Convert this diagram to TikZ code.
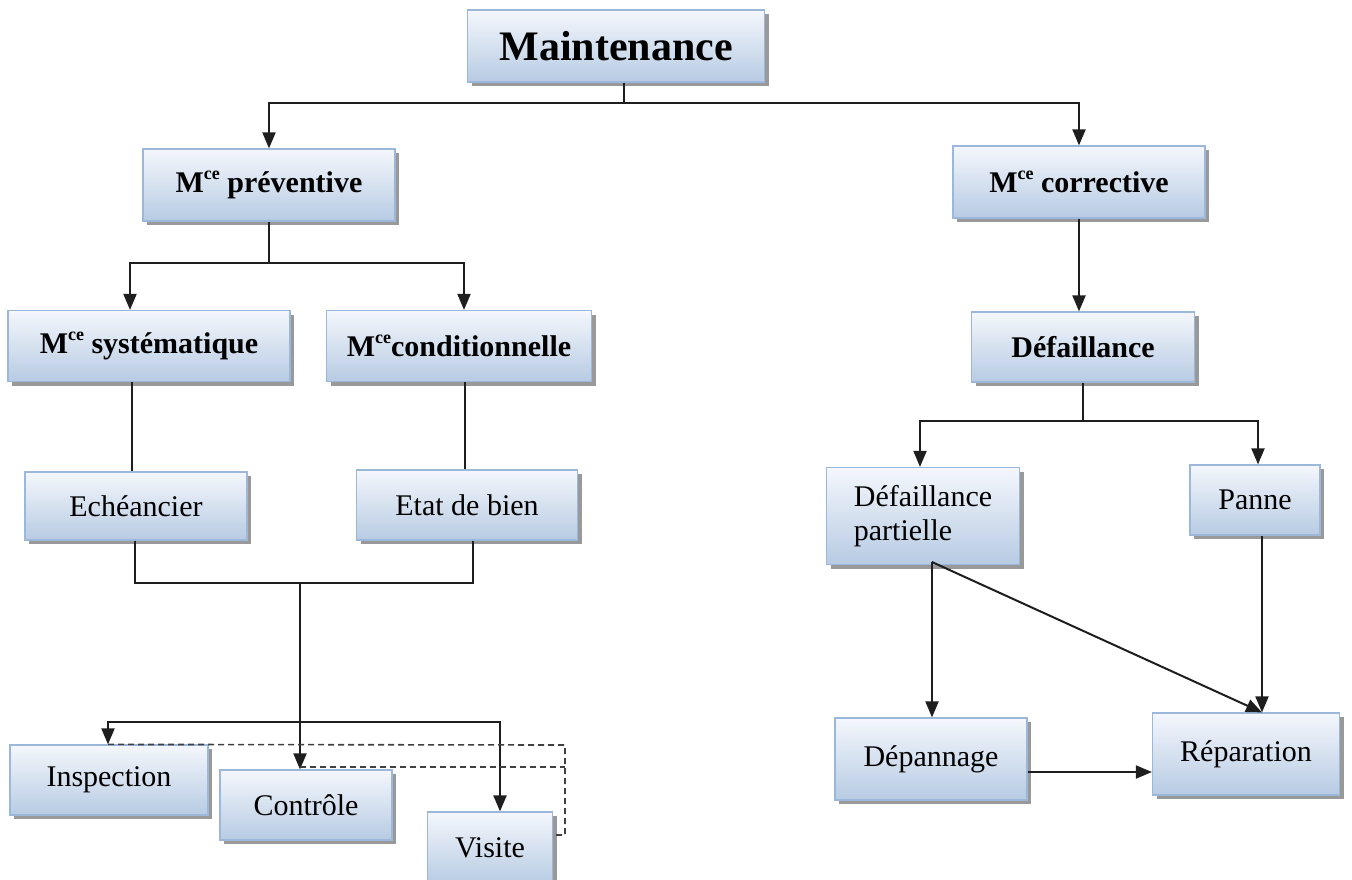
\documentclass[tikz,border=0pt]{standalone}
\usepackage{fontspec}
\setmainfont{Liberation Serif}
\usetikzlibrary{arrows.meta,shadows,calc}
\definecolor{boxtop}{HTML}{F4F7FC}
\definecolor{boxbot}{HTML}{B7CBE3}
\definecolor{boxline}{HTML}{9BB7DA}
\definecolor{wire}{HTML}{1E1E1E}
\newcommand{\myce}{\raisebox{0.42em}{\fontsize{18}{18}\selectfont ce}}
\tikzset{
  box/.style={draw=boxline, line width=1.2pt, top color=boxtop, bottom color=boxbot,
    inner sep=0pt, align=center,
    drop shadow={shadow xshift=4pt, shadow yshift=-4pt, fill=black!50, opacity=0.8},
    font=\fontsize{30}{34}\selectfont},
  bbox/.style={box, font=\fontsize{30}{34}\selectfont\bfseries},
  wireline/.style={draw=wire, line width=2pt},
  arr/.style={wireline, -{Triangle[length=16pt,width=13pt]}},
  dashline/.style={draw=black!75, line width=1.6pt, dash pattern=on 6pt off 4pt}
}
\begin{document}
\begin{tikzpicture}[x=1pt,y=-1pt]
\useasboundingbox (0,0) rectangle (1352,879);
% nodes
\node[box, font=\fontsize{42}{48}\selectfont\bfseries, minimum width=297pt, minimum height=72pt] (M) at (616,46) {Maintenance};
\node[bbox, minimum width=252pt, minimum height=72pt] (P) at (269,185) {M\myce{} préventive};
\node[bbox, minimum width=252pt, minimum height=72pt] (C) at (1079,182) {M\myce{} corrective};
\node[bbox, minimum width=282pt, minimum height=71pt] (S) at (149,346) {M\myce{} systématique};
\node[bbox, minimum width=265pt, minimum height=71pt] (K) at (459,346) {M\myce{}conditionnelle};
\node[box, minimum width=222pt, minimum height=68pt] (E) at (136,506) {Echéancier};
\node[box, minimum width=221pt, minimum height=70pt] (B) at (467,505) {Etat de bien};
\node[box, minimum width=198pt, minimum height=70pt] (I) at (109,780) {Inspection};
\node[box, minimum width=172pt, minimum height=70pt] (Co) at (306,805) {Contrôle};
\node[box, minimum width=125pt, minimum height=72pt] (V) at (490,848) {Visite};
\node[bbox, minimum width=223pt, minimum height=70pt] (D) at (1083,347) {Défaillance};
\node[box, align=left, minimum width=193pt, minimum height=97pt] (DP) at (923,516) {Défaillance\\partielle};
\node[box, minimum width=130pt, minimum height=70pt] (Pa) at (1255,500) {Panne};
\node[box, minimum width=192pt, minimum height=82pt] (Dep) at (931,759) {Dépannage};
\node[box, minimum width=187pt, minimum height=82pt] (R) at (1246,754) {Réparation};
% connectors top
\coordinate (mj) at ($(M.south)+(8,20)$);
\draw[wireline] ($(M.south)+(8,0)$) -- (mj);
\draw[arr] (mj) -| (P.north);
\draw[arr] (mj) -| (C.north);
% preventive branch
\coordinate (pj) at ($(P.south)+(0,41)$);
\draw[wireline] (P.south) -- (pj);
\draw[arr] (pj) -| (S.north -| 130,0);
\draw[arr] (pj) -| (K.north -| 464,0);
\draw[wireline] (S.south -| 132,0) -- (E.north -| 132,0);
\draw[wireline] (K.south -| 465,0) -- (B.north -| 465,0);
\coordinate (ej) at (300,583);
\draw[wireline] (E.south -| 135,0) |- (ej);
\draw[wireline] (B.south -| 473,0) |- (ej);
\coordinate (cj) at (300,722);
\draw[wireline] (ej) -- (cj);
\draw[arr] (cj) -- (Co.north -| 300,0);
\draw[arr] (cj) -| (I.north -| 108,0);
\draw[arr] (cj) -| (V.north -| 500,0);
% dashed
\coordinate (dr1) at (565,745);
\coordinate (dr2) at (565,767);
\draw[dashline] (I.north -| 108,0) -- (dr1) -- (565,835) -- (V.east |- 565,835);
\draw[dashline] (300,767) -- (dr2);
% corrective branch
\draw[arr] (C.south) -- (C.south |- D.north);
\coordinate (dj) at ($(D.south)+(0,38)$);
\draw[wireline] (D.south) -- (dj);
\draw[arr] (dj) -| (DP.north -| 920,0);
\draw[arr] (dj) -| (Pa.north -| 1258,0);
\coordinate (dps) at (932,562);
\draw[arr] (dps) -- (Dep.north -| 932,0);
\draw[arr] (dps) -- (R.north -| 1262,0);
\draw[arr] (Pa.south -| 1262,0) -- (R.north -| 1262,0);
\draw[arr] (Dep.east |- 0,772) -- (R.west |- 0,772);
\end{tikzpicture}
\end{document}
